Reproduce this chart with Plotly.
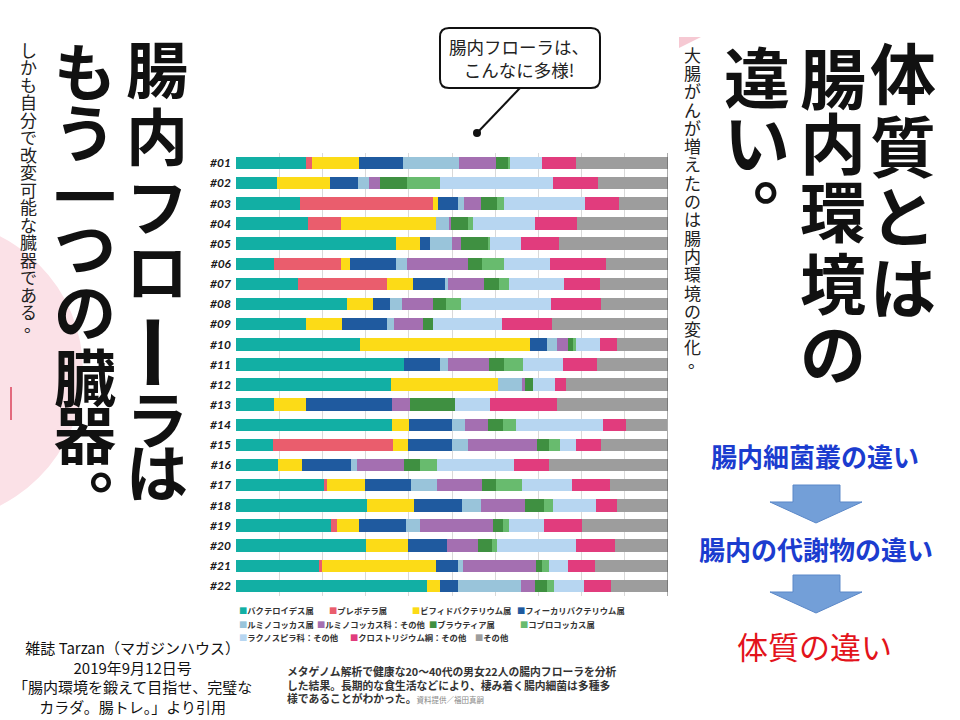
import plotly.graph_objects as go

# ---------------- data ----------------
rows = ["#01", "#02", "#03", "#04", "#05", "#06", "#07", "#08", "#09", "#10", "#11",
        "#12", "#13", "#14", "#15", "#16", "#17", "#18", "#19", "#20", "#21", "#22"]

categories = ["バクテロイデス属", "プレボテラ属", "ビフィドバクテリウム属", "フィーカリバクテリウム属",
              "ルミノコッカス属", "ルミノコッカス科：その他", "ブラウティア属", "コプロコッカス属",
              "ラクノスピラ科：その他", "クロストリジウム綱：その他", "その他"]

bacteroides = [16.1, 9.6, 14.9, 16.6, 37.0, 8.7, 14.4, 25.7, 16.1, 28.7, 38.9, 35.9, 8.9, 36.0, 8.5, 9.7, 20.4, 30.3, 22.0, 30.0, 19.4, 44.1]
prevotella = [1.5, 0, 30.8, 7.6, 0, 15.7, 20.6, 0, 0, 0, 0, 0, 0, 0, 27.8, 0, 0.6, 0, 1.3, 0, 0.4, 0]
bifido = [10.8, 12.1, 1.1, 22.2, 5.7, 2.1, 6.0, 6.0, 8.5, 39.4, 0, 24.8, 7.3, 4.0, 3.5, 5.5, 8.9, 11.0, 5.1, 9.8, 26.4, 3.1]
faecali = [10.2, 6.5, 4.6, 0, 2.3, 10.5, 7.3, 3.9, 10.4, 3.9, 8.3, 0, 19.9, 9.9, 10.2, 11.4, 10.5, 11.1, 10.9, 9.1, 5.2, 4.1]
ruminococcus = [13.1, 2.6, 1.3, 3.1, 4.9, 2.5, 0.7, 2.8, 1.5, 2.4, 1.8, 5.4, 0, 3.2, 3.7, 1.3, 6.2, 4.2, 3.2, 0, 1.2, 14.7]
rumino_other = [8.4, 2.5, 3.9, 0.2, 2.2, 14.1, 8.5, 7.1, 6.8, 2.5, 9.5, 0.8, 4.2, 5.2, 15.9, 11.1, 10.3, 10.2, 17.1, 7.2, 16.9, 3.2]
blautia = [2.9, 6.3, 3.9, 3.9, 6.2, 3.3, 3.3, 3.0, 2.2, 1.2, 3.5, 1.8, 10.5, 3.6, 2.9, 3.5, 3.2, 4.5, 2.2, 3.1, 1.4, 2.8]
coprococcus = [0.5, 7.7, 1.6, 1.2, 0.5, 5.1, 2.5, 3.5, 0, 0.5, 4.5, 0, 0, 2.9, 2.5, 4.1, 6.1, 2.1, 1.4, 1.2, 1.5, 1.7]
lachno_other = [7.4, 26.0, 18.6, 14.3, 7.1, 10.6, 12.6, 21.0, 16.0, 5.6, 9.2, 5.2, 7.9, 20.1, 3.7, 17.7, 11.6, 9.9, 8.0, 18.3, 4.5, 6.9]
clostridia_other = [7.7, 10.5, 7.9, 9.9, 8.9, 13.0, 8.3, 11.5, 11.6, 4.1, 7.8, 2.6, 15.6, 5.3, 5.9, 8.2, 8.7, 4.9, 8.9, 9.1, 6.2, 6.2]
other = [21.3, 16.1, 11.3, 21.1, 25.3, 14.4, 15.7, 15.6, 26.9, 11.8, 16.5, 23.5, 25.6, 9.6, 15.3, 27.5, 13.6, 11.9, 19.9, 12.3, 16.9, 13.3]

series = [bacteroides, prevotella, bifido, faecali, ruminococcus, rumino_other,
          blautia, coprococcus, lachno_other, clostridia_other, other]

# text content
title_left_col1 = "腸内フローラは"
title_left_col2 = "もう一つの臓器。"
sub_left = "しかも自分で改変可能な臓器である。"
title_right_cols = ["体質とは", "腸内環境の", "違い。"]
sub_right = "大腸がんが増えたのは腸内環境の変化。"
bubble_lines = ["腸内フローラは、", "こんなに多様!"]
flow_texts = ["腸内細菌叢の違い", "腸内の代謝物の違い", "体質の違い"]
citation_lines = ["雑誌 Tarzan（マガジンハウス）", "2019年9月12日号",
                  "「腸内環境を鍛えて目指せ、完璧な", "カラダ。腸トレ。」より引用"]
caption_lines = ["メタゲノム解析で健康な20〜40代の男女22人の腸内フローラを分析",
                 "した結果。長期的な食生活などにより、棲み着く腸内細菌は多種多",
                 "様であることがわかった。"]
credit = "資料提供／福田真嗣"

# ---------------- styles ----------------
colors = ["#12afa4", "#ea5d6d", "#fcdb17", "#1f5a9f", "#99c4da", "#a46fb1",
          "#3f9041", "#68bb6e", "#b7d6f1", "#e13c7d", "#9d9d9d"]
CJK = "Noto Sans CJK JP"

L, T, W, H = 236, 153, 432, 443


def px(x):
    return (x - L) / W


def py(y):
    return (T + H - y) / H


fig = go.Figure()
for name, vals, col in zip(categories, series, colors):
    fig.add_trace(go.Bar(x=vals, y=rows, orientation="h", name=name,
                         marker=dict(color=col, line=dict(width=0)),
                         showlegend=False, hovertemplate=name + ": %{x}%<extra></extra>"))

annotations = []


def ann(text, x, y, size, color="#111111", weight="normal", xanchor="center",
        yanchor="middle", angle=0, align="center", family=CJK):
    annotations.append(dict(text=text, x=px(x), y=py(y), xref="paper", yref="paper",
                            showarrow=False, xanchor=xanchor, yanchor=yanchor,
                            textangle=angle, align=align,
                            font=dict(family=family, size=size, color=color, weight=weight)))


def vchars(s, x, ys, size, color="#111111", weight="bold"):
    for ch, y in zip(s, ys):
        if ch == "。":
            ann(ch, x + 0.28 * size, y - 0.35 * size, size, color, weight)
        elif ch == "ー":
            ann(ch, x, y, size * 1.3, color, weight, angle=90)
        else:
            ann(ch, x, y - 0.05 * size, size, color, weight)


# left big title (two vertical columns)
vchars(title_left_col1, 157, [70, 137, 207, 272, 352, 420, 473], 62)
vchars(title_left_col2, 85, [72, 133, 197, 248, 312, 378, 435], 62)
vchars(title_left_col2[-1], 103, [483], 62)
# left sub text
vchars(sub_left, 28, [50 + i * 17.5 for i in range(len(sub_left))], 17, "#222222", "normal")

# right big title (three vertical columns)
vchars(title_right_cols[0], 903, [73, 146, 216, 287], 66)
vchars(title_right_cols[1], 833, [78, 143, 211, 283, 353], 66)
vchars(title_right_cols[2][:2], 757, [77, 142], 66)
vchars(title_right_cols[2][2], 768, [192], 66)
# right sub text
vchars(sub_right, 692, [55 + i * 18.3 for i in range(len(sub_right))], 17, "#222222", "normal")

# speech bubble text
ann("<br>".join(bubble_lines), 519, 58.5, 17.5, "#222222")

# flow chart texts
ann(flow_texts[0], 815, 455, 26, "#1b3ccf", "bold")
ann(flow_texts[1], 816, 548, 26, "#1b3ccf", "bold")
ann(flow_texts[2], 814, 645, 31, "#e3131b", "normal")

# citation
ann("<br>".join(citation_lines), 132, 676.5, 15, "#111111", align="center")

# caption
ann(caption_lines[0], 285, 671, 10.8, "#333333", "bold", xanchor="left")
ann(caption_lines[1], 285, 684.5, 10.8, "#333333", "bold", xanchor="left")
ann(caption_lines[2] + "<span style='font-size:7.5px;color:#888888;font-weight:normal'>" + credit + "</span>",
    285, 698, 10.8, "#333333", "bold", xanchor="left")

# legend (coloured squares + names)
legend_pos = [(237, 610), (327, 610), (410, 610), (515, 610),
              (237, 624), (315, 624), (427, 624), (518, 624),
              (237, 637), (348, 637), (473, 637)]
for name, col, (lx, ly) in zip(categories, colors, legend_pos):
    ann("<span style='color:%s'>■</span>%s" % (col, name), lx, ly, 8.3, "#333333", "bold",
        xanchor="left")

shapes = []
# pink circle on the left
shapes.append(dict(type="circle", xref="paper", yref="paper", layer="below",
                   x0=px(-220), x1=px(83), y0=py(522), y1=py(220),
                   fillcolor="#fbe1e7", line=dict(width=0)))
shapes.append(dict(type="line", xref="paper", yref="paper", x0=px(11), x1=px(11),
                   y0=py(387), y1=py(420), line=dict(color="#e36a7e", width=2)))
# small pink triangle top right
shapes.append(dict(type="path", xref="paper", yref="paper",
                   path="M %f,%f L %f,%f L %f,%f Z" % (px(679), py(37), px(701), py(37), px(679), py(48)),
                   fillcolor="#f6c9d3", line=dict(width=0)))
# right edge line of the chart
shapes.append(dict(type="line", xref="x", yref="paper", x0=100, x1=100, y0=0, y1=1,
                   line=dict(color="#555555", width=1)))


def rrect(x0, y0, x1, y1, r):
    pts = [
        ("M", (x0 + r, y0)), ("L", (x1 - r, y0)), ("Q", (x1, y0), (x1, y0 + r)),
        ("L", (x1, y1 - r)), ("Q", (x1, y1), (x1 - r, y1)), ("L", (x0 + r, y1)),
        ("Q", (x0, y1), (x0, y1 - r)), ("L", (x0, y0 + r)), ("Q", (x0, y0), (x0 + r, y0)),
    ]
    out = []
    for p in pts:
        out.append(p[0] + " " + " ".join("%f,%f" % (px(a), py(b)) for a, b in p[1:]))
    return " ".join(out) + " Z"


shapes.append(dict(type="path", xref="paper", yref="paper", path=rrect(440, 28, 600, 88, 9),
                   fillcolor="white", line=dict(color="#111111", width=2)))
shapes.append(dict(type="line", xref="paper", yref="paper", x0=px(520), y0=py(88),
                   x1=px(477), y1=py(133), line=dict(color="#111111", width=2)))
shapes.append(dict(type="circle", xref="paper", yref="paper", x0=px(473), x1=px(481),
                   y0=py(137), y1=py(129), fillcolor="#111111", line=dict(width=0)))


def down_arrow(top, shaft_bot, tip):
    p = [(793, top), (840, top), (840, shaft_bot), (862, shaft_bot), (816, tip),
         (770, shaft_bot), (793, shaft_bot)]
    return "M " + " L ".join("%f,%f" % (px(a), py(b)) for a, b in p) + " Z"


for (a, b, c) in [(485, 502, 523), (575, 592, 613)]:
    shapes.append(dict(type="path", xref="paper", yref="paper", path=down_arrow(a, b, c),
                       fillcolor="#739fd8", line=dict(color="#5b88c8", width=1)))

fig.update_layout(
    width=960, height=720, autosize=False,
    margin=dict(l=L, r=960 - L - W, t=T, b=720 - T - H, pad=0),
    paper_bgcolor="white", plot_bgcolor="white",
    barmode="stack", bargap=0.38,
    xaxis=dict(range=[0, 100], dtick=10, showgrid=True, gridcolor="#d9d9d9", gridwidth=1,
               showticklabels=False, zeroline=False, showline=False, ticks="", automargin=False),
    yaxis=dict(categoryorder="array", categoryarray=rows, autorange="reversed",
               showgrid=False, zeroline=False, automargin=False,
               ticks="", ticklabelstandoff=4,
               tickfont=dict(family="Lato", size=12, color="#1a1a1a", weight="bold", style="italic")),
    annotations=annotations, shapes=shapes,
    showlegend=False,
)

fig.write_html("out.html", config={"displayModeBar": False},
               post_script="document.body.style.margin='0px';")
